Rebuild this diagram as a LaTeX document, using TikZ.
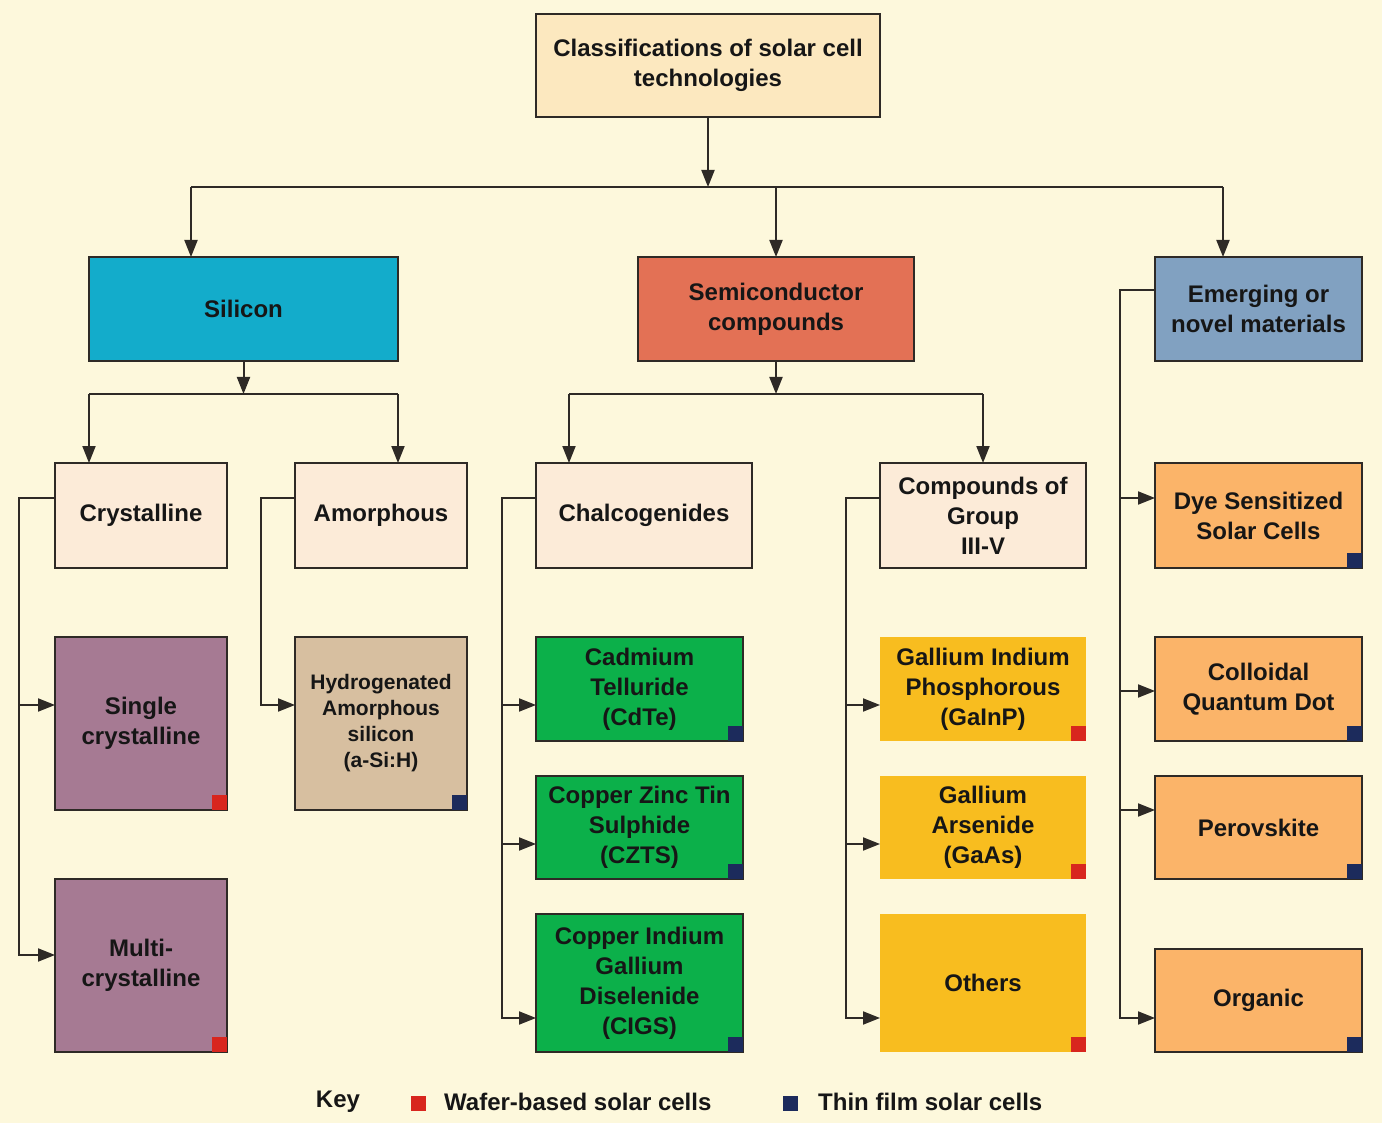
\documentclass[tikz,border=0pt]{standalone}
\usepackage{fontspec}
\setmainfont{Liberation Sans}
\usetikzlibrary{arrows.meta}
\definecolor{bgc}{HTML}{FDF8DC}
\definecolor{topc}{HTML}{FCE8BF}
\definecolor{silc}{HTML}{13ACCB}
\definecolor{semc}{HTML}{E37155}
\definecolor{emec}{HTML}{81A1C1}
\definecolor{lightc}{HTML}{FCEBD8}
\definecolor{purc}{HTML}{A67A93}
\definecolor{hydc}{HTML}{D7BFA0}
\definecolor{grnc}{HTML}{0CB04A}
\definecolor{yelc}{HTML}{F8BD1F}
\definecolor{orac}{HTML}{FBB469}
\definecolor{redc}{HTML}{D8261E}
\definecolor{navc}{HTML}{1C2B5C}
\definecolor{linec}{HTML}{2E2A26}
\definecolor{textc}{HTML}{161616}
\newcommand\waferbox[1]{\fill[redc] (#1.south east) rectangle ++(-15,-15);}
\newcommand\thinbox[1]{\fill[navc] (#1.south east) rectangle ++(-15,-15);}
\begin{document}
\begin{tikzpicture}[x=1pt,y=-1pt,
  box/.style={draw=linec, line width=2pt, inner sep=2pt, outer sep=0pt, align=center,
    font=\fontsize{24}{30}\selectfont\bfseries, text=textc},
  nbox/.style={box, draw=none},
  line/.style={draw=linec, line width=2pt},
  arr/.style={line, -{Triangle[length=17pt,width=13pt]}},
  keytext/.style={font=\fontsize{24}{30}\selectfont\bfseries, text=textc, inner sep=0pt}
]
\useasboundingbox (0,0) rectangle (1382,1123);
\fill[bgc] (0,0) rectangle (1382,1123);

% level 0
\node[box, fill=topc, minimum width=344pt, minimum height=103pt] (top) at (708,65.5) {Classifications of solar cell\\technologies};
% level 1
\node[box, fill=silc, minimum width=309pt, minimum height=104pt] (silicon) at (243.5,309) {Silicon};
\node[box, fill=semc, minimum width=276pt, minimum height=104pt] (semi) at (776,309) {Semiconductor\\compounds};
\node[box, fill=emec, minimum width=207pt, minimum height=104pt] (emerg) at (1258.5,309) {Emerging or\\novel materials};
% level 2
\node[box, fill=lightc, minimum width=172pt, minimum height=105pt] (cryst) at (141,515.5) {Crystalline};
\node[box, fill=lightc, minimum width=172pt, minimum height=105pt] (amorph) at (381,515.5) {Amorphous};
\node[box, fill=lightc, minimum width=216pt, minimum height=105pt] (chalc) at (644,515.5) {Chalcogenides};
\node[box, fill=lightc, minimum width=206pt, minimum height=105pt] (group) at (983,515.5) {Compounds of\\Group\\III-V};
% leaves silicon
\node[box, fill=purc, minimum width=172pt, minimum height=173pt] (single) at (141,723.5) {Single\\crystalline};
\node[box, fill=purc, minimum width=172pt, minimum height=173pt] (multi) at (141,965.5) {Multi-\\crystalline};
\node[box, fill=hydc, minimum width=172pt, minimum height=173pt, font=\fontsize{21}{26}\selectfont\bfseries] (hydro) at (381,723.5) {Hydrogenated\\Amorphous\\silicon\\(a-Si:H)};
% leaves chalcogenides
\node[box, fill=grnc, minimum width=207pt, minimum height=104pt] (cdte) at (639.5,689) {Cadmium\\Telluride\\(CdTe)};
\node[box, fill=grnc, minimum width=207pt, minimum height=103pt] (czts) at (639.5,827.5) {Copper Zinc Tin\\Sulphide\\(CZTS)};
\node[box, fill=grnc, minimum width=207pt, minimum height=138pt] (cigs) at (639.5,983) {Copper Indium\\Gallium\\Diselenide\\(CIGS)};
% leaves III-V
\node[nbox, fill=yelc, minimum width=206pt, minimum height=104pt] (gainp) at (983,689) {Gallium Indium\\Phosphorous\\(GaInP)};
\node[nbox, fill=yelc, minimum width=206pt, minimum height=103pt] (gaas) at (983,827.5) {Gallium\\Arsenide\\(GaAs)};
\node[nbox, fill=yelc, minimum width=206pt, minimum height=138pt] (others) at (983,983) {Others};
% leaves emerging
\node[box, fill=orac, minimum width=207pt, minimum height=105pt] (dye) at (1258.5,515.5) {Dye Sensitized\\Solar Cells};
\node[box, fill=orac, minimum width=207pt, minimum height=104pt] (cqd) at (1258.5,689) {Colloidal\\Quantum Dot};
\node[box, fill=orac, minimum width=207pt, minimum height=103pt] (perov) at (1258.5,827.5) {Perovskite};
\node[box, fill=orac, minimum width=207pt, minimum height=103pt] (organic) at (1258.5,1000.5) {Organic};

% corner markers
\waferbox{single}\waferbox{multi}\thinbox{hydro}
\thinbox{cdte}\thinbox{czts}\thinbox{cigs}
\waferbox{gainp}\waferbox{gaas}\waferbox{others}
\thinbox{dye}\thinbox{cqd}\thinbox{perov}\thinbox{organic}

% top connectors
\coordinate (tb) at (708,187);
\coordinate (tl) at (191,187);
\coordinate (tr) at (1223,187);
\draw[line] (tl) -- (tr);
\draw[arr] (top.south) -- (tb);
\draw[arr] (tl) -- (tl |- silicon.north);
\draw[arr] (tb -| semi.north) -- (semi.north);
\draw[arr] (tr) -- (tr |- emerg.north);

% silicon connectors
\coordinate (s1) at (89,394);
\coordinate (s2) at (398,394);
\draw[line] (s1) -- (s2);
\draw[arr] (silicon.south) -- (silicon.south |- s1);
\draw[arr] (s1) -- (s1 |- cryst.north);
\draw[arr] (s2) -- (s2 |- amorph.north);

% semiconductor connectors
\coordinate (m1) at (569,394);
\coordinate (m2) at (983,394);
\draw[line] (m1) -- (m2);
\draw[arr] (semi.south) -- (semi.south |- m1);
\draw[arr] (m1) -- (m1 |- chalc.north);
\draw[arr] (m2) -- (m2 |- group.north);

% crystalline bus
\coordinate (cx) at (19,498);
\coordinate (ca) at (19,705);
\coordinate (cb) at (19,955);
\draw[arr] (cx -| cryst.west) -- (cx) -- (cb) -- (cb -| multi.west);
\draw[arr] (ca) -- (ca -| single.west);

% amorphous bus
\coordinate (ax) at (261,498);
\coordinate (aa) at (261,705);
\draw[arr] (ax -| amorph.west) -- (ax) -- (aa) -- (aa -| hydro.west);

% chalcogenides bus
\coordinate (hx) at (502,498);
\coordinate (ha) at (502,705);
\coordinate (hb) at (502,844);
\coordinate (hc) at (502,1018);
\draw[arr] (hx -| chalc.west) -- (hx) -- (hc) -- (hc -| cigs.west);
\draw[arr] (ha) -- (ha -| cdte.west);
\draw[arr] (hb) -- (hb -| czts.west);

% III-V bus
\coordinate (gx) at (846,498);
\coordinate (ga) at (846,705);
\coordinate (gb) at (846,844);
\coordinate (gc) at (846,1018);
\draw[arr] (gx -| group.west) -- (gx) -- (gc) -- (gc -| others.west);
\draw[arr] (ga) -- (ga -| gainp.west);
\draw[arr] (gb) -- (gb -| gaas.west);

% emerging bus
\coordinate (ex) at (1120,290);
\coordinate (ea) at (1120,498);
\coordinate (eb) at (1120,691);
\coordinate (ec) at (1120,810);
\coordinate (ed) at (1120,1018);
\draw[arr] (ex -| emerg.west) -- (ex) -- (ed) -- (ed -| organic.west);
\draw[arr] (ea) -- (ea -| dye.west);
\draw[arr] (eb) -- (eb -| cqd.west);
\draw[arr] (ec) -- (ec -| perov.west);

% key
\node[keytext] (key) at (338,1102) {Key};
\node[fill=redc, minimum size=15pt, inner sep=0pt] (keyred) at (418.5,1103.5) {};
\node[keytext, anchor=west] (wafer) at (444,1102) {Wafer-based solar cells};
\node[fill=navc, minimum size=15pt, inner sep=0pt] (keynav) at (790,1103.5) {};
\node[keytext, anchor=west] (thin) at (818,1102) {Thin film solar cells};
\end{tikzpicture}
\end{document}
